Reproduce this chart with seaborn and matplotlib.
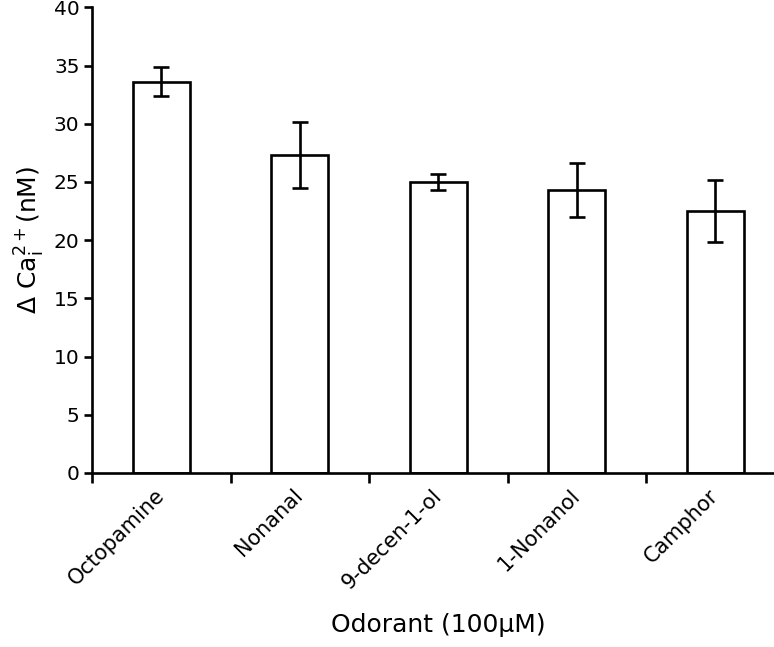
import matplotlib
matplotlib.use("Agg")
import matplotlib.pyplot as plt
import matplotlib.transforms as mtransforms
import seaborn as sns
import pandas as pd

categories = ["Octopamine", "Nonanal", "9-decen-1-ol", "1-Nonanol", "Camphor"]
values = [33.6, 27.3, 25.0, 24.3, 22.5]
errors = [1.25, 2.85, 0.7, 2.3, 2.7]
y_ticks = [0, 5, 10, 15, 20, 25, 30, 35, 40]

df = pd.DataFrame({"Odorant": categories, "Ca": values})

sns.set_style("white")
plt.rcParams["font.family"] = ["DejaVu Sans"]
plt.rcParams["text.color"] = "black"
plt.rcParams["axes.labelcolor"] = "black"
plt.rcParams["xtick.color"] = "black"
plt.rcParams["ytick.color"] = "black"

fig = plt.figure(figsize=(7.74, 6.47), dpi=100)
ax = fig.add_axes([0.1189, 0.269, 0.8947, 0.7197])

sns.barplot(data=df, x="Odorant", y="Ca", ax=ax, color="white",
            edgecolor="black", linewidth=1.9, width=0.41, errorbar=None,
            saturation=1)
ax.errorbar(range(len(categories)), values, yerr=errors, fmt="none",
            ecolor="black", elinewidth=1.9, capsize=6, capthick=1.9)

ax.set_xlim(-0.5, len(categories) - 0.5)
ax.set_ylim(0, 40)
ax.set_yticks(y_ticks)
ax.set_yticklabels([str(t) for t in y_ticks], fontsize=14.5)

ax.set_xticks(range(len(categories)))
ax.set_xticklabels(categories, fontsize=15, rotation=45, ha="right",
                   va="center", rotation_mode="anchor")
offset = mtransforms.ScaledTranslation(12 / 100, -4 / 100, fig.dpi_scale_trans)
for lab in ax.get_xticklabels():
    lab.set_transform(lab.get_transform() + offset)
ax.tick_params(axis="x", which="major", length=0, pad=14)
ax.set_xticks([i - 0.5 for i in range(len(categories) + 1)], minor=True)
ax.tick_params(axis="x", which="minor", length=7, width=1.9, color="black",
               direction="out", bottom=True)
ax.tick_params(axis="y", which="major", length=6, width=1.9, color="black",
               direction="out", left=True, pad=3)

for s in ["top", "right"]:
    ax.spines[s].set_visible(False)
for s in ["left", "bottom"]:
    ax.spines[s].set_color("black")
    ax.spines[s].set_linewidth(1.9)

ax.set_ylabel(r"Δ Ca$_\mathregular{i}^\mathregular{2+}$(nM)", fontsize=18,
              labelpad=5, color="black")
ax.set_xlabel("Odorant (100µM)", fontsize=18, labelpad=15, color="black")

fig.savefig("out.png", dpi=100)
